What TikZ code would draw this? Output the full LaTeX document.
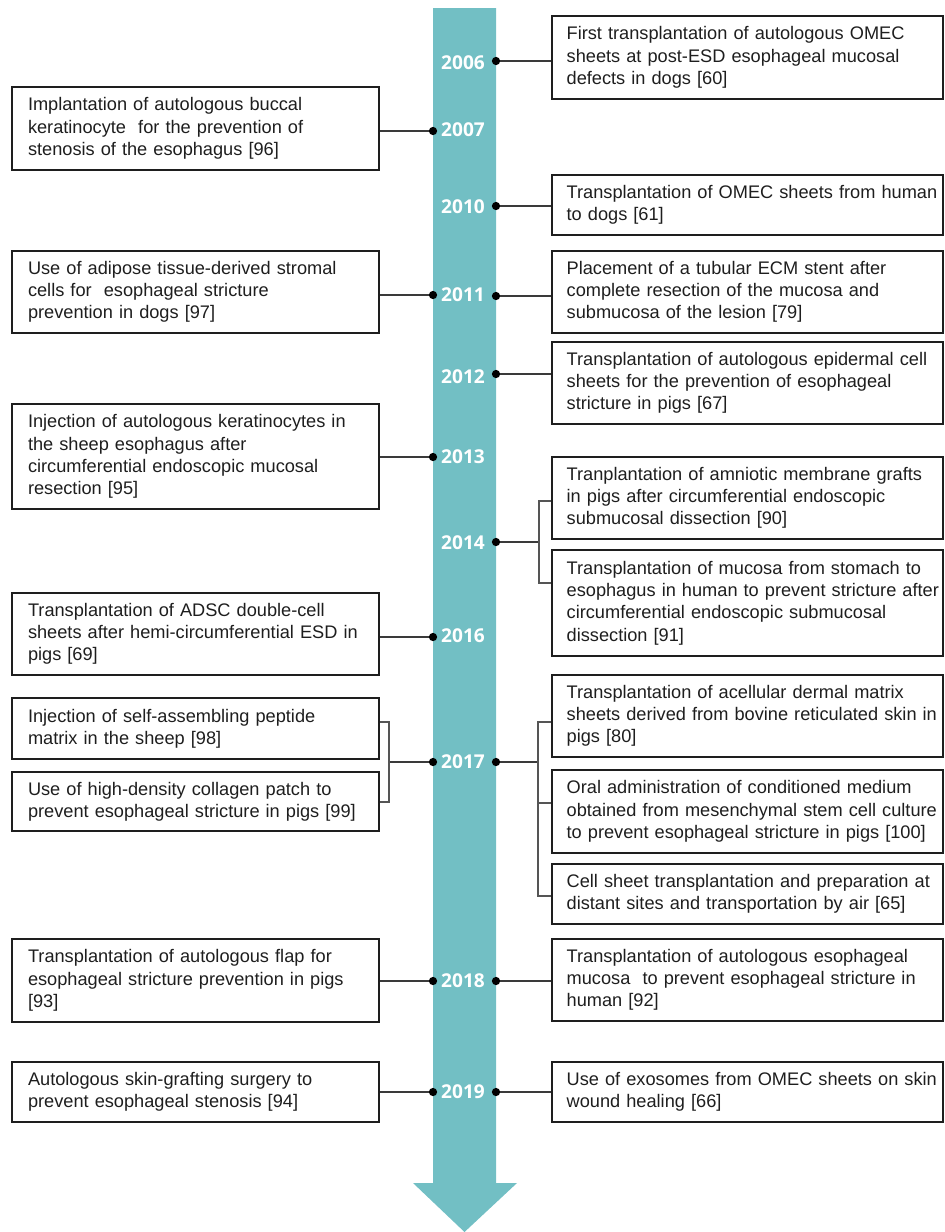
\documentclass[tikz,border=0pt]{standalone}
\usepackage{fontspec}
\setmainfont{Liberation Sans}
\newfontfamily\yearfont{Open Sans}
\usetikzlibrary{positioning}
\definecolor{barteal}{HTML}{72BFC4}
\definecolor{inkdark}{HTML}{1E1E1E}
\definecolor{linegray}{HTML}{3A3A3A}
\definecolor{brkgray}{HTML}{555555}

\tikzset{
  event/.style={draw=inkdark, line width=1.3pt, align=left, text=inkdark,
    font=\fontsize{13.65}{16.7}\selectfont, inner ysep=0pt},
  leftev/.style={event, inner xsep=12pt, text width=251.25pt},
  rightev/.style={event, inner xsep=11pt, text width=271.25pt},
  year/.style={text=white, font=\yearfont\bfseries\fontsize{14.3}{16}\selectfont},
  dot/.style={circle, fill=black, inner sep=0pt, minimum size=6.2pt},
  conn/.style={linegray, line width=1pt},
  brk/.style={brkgray, line width=0.8pt}
}

\begin{document}
\begin{tikzpicture}[x=0.75pt, y=-0.75pt]

\useasboundingbox (0,0) rectangle (945,1232);

% Time arrow
\fill[barteal] (433,8) -- (496,8) -- (496,1183) -- (517,1183) -- (464.5,1232)
  -- (413,1183) -- (433,1183) -- cycle;

% Years
\node[year] (y2006) at (463,63) {2006};
\node[year] (y2007) at (463,130) {2007};
\node[year] (y2010) at (463,207) {2010};
\node[year] (y2011) at (463,295) {2011};
\node[year] (y2012) at (463,377) {2012};
\node[year] (y2013) at (463,457) {2013};
\node[year] (y2014) at (463,543) {2014};
\node[year] (y2016) at (463,636) {2016};
\node[year] (y2017) at (463,762) {2017};
\node[year] (y2018) at (463,981) {2018};
\node[year] (y2019) at (463,1092) {2019};

% Dots on the arrow
\node[dot] (dr2006) at (496,61) {};
\node[dot] (dl2007) at (433,131) {};
\node[dot] (dr2010) at (496,206) {};
\node[dot] (dl2011) at (433,295) {};
\node[dot] (dr2011) at (496,296) {};
\node[dot] (dr2012) at (496,374) {};
\node[dot] (dl2013) at (433,457) {};
\node[dot] (dr2014) at (496,542) {};
\node[dot] (dl2016) at (433,637) {};
\node[dot] (dl2017) at (433,762) {};
\node[dot] (dr2017) at (496,762) {};
\node[dot] (dl2018) at (433,981) {};
\node[dot] (dr2018) at (496,981) {};
\node[dot] (dl2019) at (433,1092) {};
\node[dot] (dr2019) at (496,1092) {};

% Left column
\node[leftev, minimum height=62.25pt] (l2007) at (195.5,128.5)
  {Implantation of autologous buccal\\ keratinocyte\ \ for the prevention of\\ stenosis of the esophagus [96]};
\node[leftev, minimum height=61.5pt] (l2011) at (195.5,292)
  {Use of adipose tissue-derived stromal\\ cells for\ \ esophageal stricture\\ prevention in dogs [97]};
\node[leftev, minimum height=78.75pt] (l2013) at (195.5,456.5)
  {Injection of autologous keratinocytes in\\ the sheep esophagus after\\ circumferential endoscopic mucosal\\ resection [95]};
\node[leftev, minimum height=61.5pt] (l2016) at (195.5,634)
  {Transplantation of ADSC double-cell\\ sheets after hemi-circumferential ESD in\\ pigs [69]};
\node[leftev, minimum height=45.75pt] (l2017a) at (195.5,728.5)
  {Injection of self-assembling peptide\\ matrix in the sheep [98]};
\node[leftev, minimum height=44.25pt] (l2017b) at (195.5,801.5)
  {Use of high-density collagen patch to\\ prevent esophageal stricture in pigs [99]};
\node[leftev, minimum height=62.25pt] (l2018) at (195.5,980.5)
  {Transplantation of autologous flap for\\ esophageal stricture prevention in pigs\\{}[93]};
\node[leftev, minimum height=45pt] (l2019) at (195.5,1092)
  {Autologous skin-grafting surgery to\\ prevent esophageal stenosis [94]};

% Right column
\node[rightev, minimum height=62.25pt] (r2006) at (747.5,57.5)
  {First transplantation of autologous OMEC\\ sheets at post-ESD esophageal mucosal\\ defects in dogs [60]};
\node[rightev, minimum height=45pt] (r2010) at (747.5,205)
  {\mbox{Transplantation of OMEC sheets from human}\\ to dogs [61]};
\node[rightev, minimum height=61.5pt] (r2011) at (747.5,292)
  {Placement of a tubular ECM stent after\\ complete resection of the mucosa and\\ submucosa of the lesion [79]};
\node[rightev, minimum height=61.5pt] (r2012) at (747.5,383)
  {\mbox{Transplantation of autologous epidermal cell}\\ sheets for the prevention of esophageal\\ stricture in pigs [67]};
\node[rightev, minimum height=61.5pt] (r2014a) at (747.5,498)
  {Tranplantation of amniotic membrane grafts\\ in pigs after circumferential endoscopic\\ submucosal dissection [90]};
\node[rightev, minimum height=79.5pt] (r2014b) at (747.5,603)
  {Transplantation of mucosa from stomach to\\ \mbox{esophagus in human to prevent stricture after}\\ circumferential endoscopic submucosal\\ dissection [91]};
\node[rightev, minimum height=61.5pt] (r2017a) at (747.5,716)
  {Transplantation of acellular dermal matrix\\ \mbox{sheets derived from bovine reticulated skin in}\\ pigs [80]};
\node[rightev, minimum height=62.25pt] (r2017b) at (747.5,811.5)
  {Oral administration of conditioned medium\\ \mbox{obtained from mesenchymal stem cell culture}\\ \mbox{to prevent esophageal stricture in pigs [100]}};
\node[rightev, minimum height=45pt] (r2017c) at (747.5,894)
  {\mbox{Cell sheet transplantation and preparation at}\\ distant sites and transportation by air [65]};
\node[rightev, minimum height=61.5pt] (r2018) at (747.5,980)
  {Transplantation of autologous esophageal\\ \mbox{mucosa\ \ to prevent esophageal stricture in}\\ human [92]};
\node[rightev, minimum height=45pt] (r2019) at (747.5,1092)
  {\mbox{Use of exosomes from OMEC sheets on skin}\\ wound healing [66]};

% Bracket points
\coordinate (b14t) at (539,501);
\coordinate (b14b) at (539,583);
\coordinate (b17lt) at (389,722);
\coordinate (b17lb) at (389,802);
\coordinate (b17rt) at (538,722);
\coordinate (b17rm) at (538,803);
\coordinate (b17rb) at (538,896);

% Single connectors
\draw[conn] (dr2006) -- (dr2006 -| r2006.west);
\draw[conn] (dl2007) -- (dl2007 -| l2007.east);
\draw[conn] (dr2010) -- (dr2010 -| r2010.west);
\draw[conn] (dl2011) -- (dl2011 -| l2011.east);
\draw[conn] (dr2011) -- (dr2011 -| r2011.west);
\draw[conn] (dr2012) -- (dr2012 -| r2012.west);
\draw[conn] (dl2013) -- (dl2013 -| l2013.east);
\draw[conn] (dl2016) -- (dl2016 -| l2016.east);
\draw[conn] (dl2018) -- (dl2018 -| l2018.east);
\draw[conn] (dr2018) -- (dr2018 -| r2018.west);
\draw[conn] (dl2019) -- (dl2019 -| l2019.east);
\draw[conn] (dr2019) -- (dr2019 -| r2019.west);

% Grouped connectors
\draw[conn] (dr2014) -- (dr2014 -| b14t);
\draw[brk] (b14t -| r2014a.west) -- (b14t) -- (b14b) -- (b14b -| r2014b.west);
\draw[conn] (dl2017) -- (dl2017 -| b17lt);
\draw[brk] (b17lt -| l2017a.east) -- (b17lt) -- (b17lb) -- (b17lb -| l2017b.east);
\draw[conn] (dr2017) -- (dr2017 -| b17rt);
\draw[brk] (b17rt -| r2017a.west) -- (b17rt) -- (b17rb) -- (b17rb -| r2017c.west);
\draw[brk] (b17rm) -- (b17rm -| r2017b.west);

\end{tikzpicture}
\end{document}
